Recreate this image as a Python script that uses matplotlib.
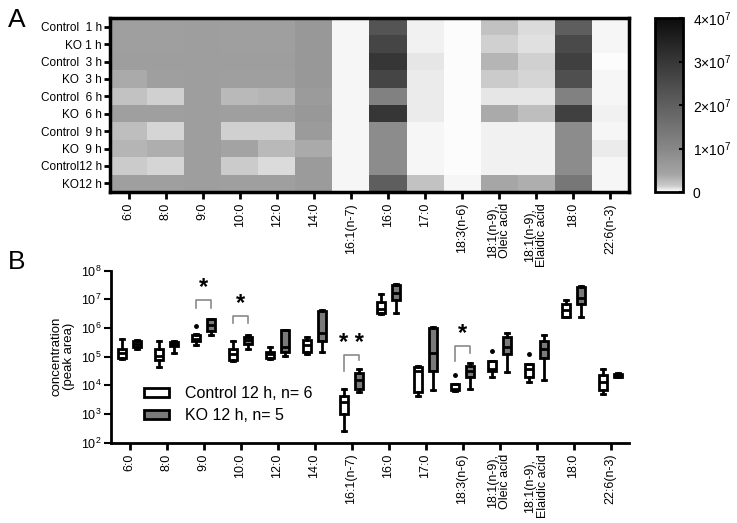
import numpy as np
import matplotlib
matplotlib.use("Agg")
import matplotlib.pyplot as plt
from matplotlib.colors import LinearSegmentedColormap
from matplotlib.patches import Patch
from matplotlib.ticker import NullLocator, LogLocator

plt.rcParams['font.family'] = ['Liberation Sans', 'DejaVu Sans']
plt.rcParams['mathtext.fontset'] = 'custom'
plt.rcParams['mathtext.rm'] = 'Liberation Sans'
plt.rcParams['mathtext.it'] = 'Liberation Sans:italic'
plt.rcParams['mathtext.bf'] = 'Liberation Sans:bold'

# ---------------- data ----------------
fatty_acids = ["6:0", "8:0", "9:0", "10:0", "12:0", "14:0", "16:1(n-7)", "16:0", "17:0",
               "18:3(n-6)", "18:1(n-9),\nOleic acid", "18:1(n-9),\nElaidic acid", "18:0", "22:6(n-3)"]
row_labels = ["Control  1 h", "KO 1 h", "Control  3 h", "KO  3 h", "Control  6 h", "KO  6 h",
              "Control  9 h", "KO  9 h", "Control12 h", "KO12 h"]

# heatmap values (units of 1e7 peak area)
heat_c1 = [0.50, 0.50, 0.54, 0.50, 0.50, 0.66, 0.02, 2.25, 0.045, 0.015, 0.19, 0.105, 2.00, 0.02]
heat_k1 = [0.50, 0.50, 0.54, 0.50, 0.50, 0.66, 0.02, 2.63, 0.045, 0.015, 0.135, 0.09, 2.50, 0.02]
heat_c3 = [0.54, 0.54, 0.54, 0.54, 0.54, 0.66, 0.02, 3.00, 0.066, 0.015, 0.29, 0.135, 2.75, 0.015]
heat_k3 = [0.36, 0.50, 0.54, 0.50, 0.50, 0.66, 0.02, 2.63, 0.054, 0.015, 0.15, 0.12, 2.38, 0.02]
heat_c6 = [0.19, 0.135, 0.54, 0.26, 0.29, 0.60, 0.02, 1.13, 0.06, 0.015, 0.075, 0.075, 1.13, 0.02]
heat_k6 = [0.50, 0.50, 0.54, 0.50, 0.50, 0.66, 0.02, 3.00, 0.054, 0.015, 0.36, 0.22, 2.75, 0.036]
heat_c9 = [0.22, 0.12, 0.54, 0.135, 0.135, 0.60, 0.02, 0.90, 0.024, 0.015, 0.045, 0.036, 0.90, 0.03]
heat_k9 = [0.29, 0.33, 0.54, 0.45, 0.26, 0.36, 0.02, 0.90, 0.02, 0.015, 0.045, 0.045, 0.90, 0.054]
heat_c12 = [0.15, 0.114, 0.54, 0.15, 0.105, 0.60, 0.02, 0.90, 0.03, 0.015, 0.045, 0.045, 0.90, 0.024]
heat_k12 = [0.50, 0.50, 0.54, 0.50, 0.50, 0.60, 0.02, 2.00, 0.19, 0.03, 0.40, 0.33, 1.38, 0.02]

# box statistics: (low whisker, q1, median, q3, high whisker)
ctrl_lo  = [8.1e4, 4.3e4, 2.6e5, 7.1e4, 8.3e4, 1.26e5, 2.5e2, 3.2e6, 4.4e3, 6.3e3, 2.0e4, 1.35e4, 2.4e6, 5.0e3]
ctrl_q1  = [9.3e4, 7.8e4, 3.4e5, 7.8e4, 8.9e4, 1.45e5, 1.0e3, 3.3e6, 6.0e3, 6.9e3, 3.3e4, 1.9e4, 2.5e6, 6.9e3]
ctrl_med = [1.3e5, 1.1e5, 4.2e5, 1.26e5, 1.26e5, 2.6e5, 2.6e3, 4.5e6, 3.2e4, 7.4e3, 3.8e4, 3.6e4, 4.1e6, 1.26e4]
ctrl_q3  = [1.9e5, 1.9e5, 5.8e5, 1.9e5, 1.45e5, 3.8e5, 4.1e3, 8.3e6, 4.3e4, 1.1e4, 7.1e4, 5.5e4, 6.8e6, 2.3e4]
ctrl_hi  = [4.2e5, 3.6e5, 6.0e5, 3.5e5, 2.1e5, 5.0e5, 7.4e3, 1.6e7, 4.9e4, 1.1e4, 7.1e4, 5.5e4, 9.5e6, 3.6e4]
ctrl_out = [[], [], [1.2e6], [], [], [], [], [], [], [2.3e4], [1.6e5], [1.2e5], [], []]

ko_lo  = [1.9e5, 1.4e5, 5.8e5, 1.9e5, 1.1e5, 1.5e5, 5.8e3, 3.3e6, 6.9e3, 7.4e3, 3.0e4, 1.5e4, 2.4e6, 1.9e4]
ko_q1  = [2.2e5, 2.4e5, 7.9e5, 2.8e5, 1.5e5, 3.5e5, 7.4e3, 9.5e6, 3.3e4, 1.9e4, 1.26e5, 9.3e4, 6.8e6, 2.0e4]
ko_med = [2.8e5, 2.8e5, 1.3e6, 3.8e5, 2.1e5, 6.6e5, 1.6e4, 1.7e7, 1.4e5, 3.2e4, 2.1e5, 1.8e5, 1.15e7, 2.3e4]
ko_q3  = [3.5e5, 3.3e5, 2.0e6, 5.0e5, 8.5e5, 4.0e6, 2.7e4, 3.2e7, 1.0e6, 4.9e4, 4.8e5, 3.6e5, 2.6e7, 2.5e4]
ko_hi  = [3.8e5, 3.5e5, 2.1e6, 5.8e5, 8.5e5, 4.3e6, 3.6e4, 3.5e7, 1.07e6, 5.9e4, 6.9e5, 5.8e5, 3.0e7, 2.7e4]

# significance annotations
sig_idx = [2, 3, 6, 9]
sig_top = [9.5e6, 2.6e6, 1.15e5, 2.4e5]
sig_left = [5.2e6, 1.5e6, 3.2e4, 7.1e4]
sig_right = [5.2e6, 1.5e6, 7.6e4, 1.3e5]
sig_text = ["*", "*", "* *", "*"]
sig_text_y = [2.6e7, 7.3e6, 3.0e5, 6.6e5]

# ---------------- figure ----------------
W, H = 737, 523
fig = plt.figure(figsize=(W / 100, H / 100), dpi=100)

def fax(l, t, r, b):
    return fig.add_axes([l / W, 1 - b / H, (r - l) / W, (b - t) / H])

# heatmap
ax1 = fax(110, 18, 629, 192)
heat = np.array([heat_c1, heat_k1, heat_c3, heat_k3, heat_c6, heat_k6, heat_c9, heat_k9, heat_c12, heat_k12])
g = lambda v: (v / 255, v / 255, v / 255)
cmap = LinearSegmentedColormap.from_list(
    "gp", [(0.0, g(252)), (0.0375, g(200)), (0.1, g(165)), (0.25, g(135)),
           (0.5, g(95)), (0.75, g(55)), (1.0, g(12))])
im = ax1.imshow(heat, cmap=cmap, vmin=0, vmax=4, aspect='auto', interpolation='nearest')
ax1.set_xticks(np.arange(len(fatty_acids)))
ax1.set_xticklabels(fatty_acids, rotation=90, fontsize=9, va='top', ha='center', linespacing=1.0)
ax1.set_yticks(np.arange(len(row_labels)))
ax1.set_yticklabels(row_labels, fontsize=8.5)
ax1.tick_params(axis='x', length=5, width=2, direction='out', pad=3)
ax1.tick_params(axis='y', length=4, width=2, direction='out', pad=2)
for s in ax1.spines.values():
    s.set_linewidth(2.5)

# colorbar
cax = fax(655, 18, 683, 192)
cb = fig.colorbar(im, cax=cax)
cb.set_ticks([0, 1, 2, 3, 4])
cb.set_ticklabels(["0", r"$1{\times}10^{7}$", r"$2{\times}10^{7}$", r"$3{\times}10^{7}$", r"$4{\times}10^{7}$"])
cax.tick_params(length=3, width=1.5, direction='in', labelsize=10, pad=7)
cb.outline.set_linewidth(2)

# boxplots
ax2 = fax(111, 270.7, 629, 442.7)
off = 0.2
bw = 0.22
pos = np.arange(len(fatty_acids))
ctrl_stats = [dict(whislo=ctrl_lo[i], q1=ctrl_q1[i], med=ctrl_med[i], q3=ctrl_q3[i],
                   whishi=ctrl_hi[i], fliers=ctrl_out[i]) for i in range(len(pos))]
ko_stats = [dict(whislo=ko_lo[i], q1=ko_q1[i], med=ko_med[i], q3=ko_q3[i],
                 whishi=ko_hi[i], fliers=[]) for i in range(len(pos))]
common = dict(widths=bw, patch_artist=True, showfliers=True,
              whiskerprops=dict(color='black', linewidth=2),
              capprops=dict(color='black', linewidth=2),
              medianprops=dict(color='black', linewidth=2),
              flierprops=dict(marker='o', markersize=2.5, markerfacecolor='black',
                              markeredgecolor='black', linestyle='none'))
ax2.bxp(ctrl_stats, positions=pos - off, boxprops=dict(facecolor='white', edgecolor='black', linewidth=2),
        **common)
ax2.bxp(ko_stats, positions=pos + off, boxprops=dict(facecolor='#7a7a7a', edgecolor='black', linewidth=2),
        **common)
ax2.set_yscale('log')
ax2.set_ylim(1e2, 1e8)
ax2.set_xlim(-0.5, len(fatty_acids) - 0.5)
ax2.yaxis.set_major_locator(LogLocator(base=10, numticks=10))
ax2.yaxis.set_minor_locator(NullLocator())
ax2.set_xticks(pos)
ax2.set_xticklabels(fatty_acids, rotation=90, fontsize=9, va='top', ha='center', linespacing=1.0)
ax2.tick_params(axis='x', length=5, width=2, direction='out', pad=3)
ax2.tick_params(axis='y', length=5, width=1.5, direction='out', labelsize=9, pad=2)
for s in ['top', 'right']:
    ax2.spines[s].set_visible(False)
for s in ['left', 'bottom']:
    ax2.spines[s].set_linewidth(2)
ax2.set_ylabel("concentration\n(peak area)", fontsize=9.5, labelpad=4, linespacing=1.1)

for i in range(len(sig_idx)):
    x0 = sig_idx[i] - off
    x1 = sig_idx[i] + off
    ax2.plot([x0, x0, x1, x1], [sig_left[i], sig_top[i], sig_top[i], sig_right[i]],
             color='#8a8a8a', linewidth=1.2)
    ax2.text(sig_idx[i], sig_text_y[i], sig_text[i], ha='center', va='center',
             fontsize=17, fontweight='bold')

handles = [Patch(facecolor='white', edgecolor='black', linewidth=2),
           Patch(facecolor='#7a7a7a', edgecolor='black', linewidth=2)]
ax2.legend(handles, ["Control 12 h, n= 6", "KO 12 h, n= 5"], loc='lower left',
           bbox_to_anchor=(0.035, 0.03), frameon=False, fontsize=11.5,
           handlelength=1.6, handleheight=0.55, handletextpad=1.0, labelspacing=0.45,
           borderaxespad=0.5)

fig.text(8 / W, 1 - 20 / H, "A", fontsize=19, va='center', ha='left')
fig.text(8 / W, 1 - 262 / H, "B", fontsize=19, va='center', ha='left')

fig.savefig("out.png", dpi=100)
